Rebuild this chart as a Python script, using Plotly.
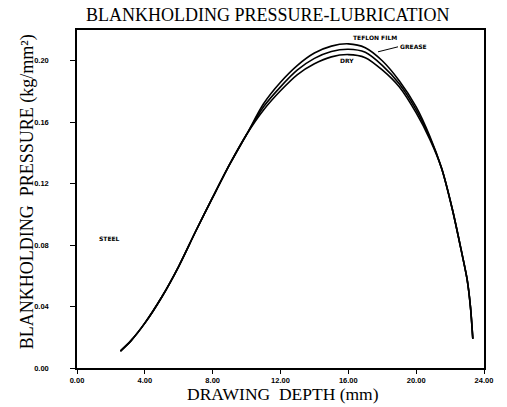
import plotly.graph_objects as go

# Drawing depth (mm) and blankholding pressure (kg/mm^2)
x_teflon = [2.56, 3.2, 4.0, 5.0, 6.0, 7.0, 8.0, 9.0, 10.0, 11.0, 12.0, 13.0, 14.0, 15.0, 16.0, 17.0, 18.0, 19.0, 20.0, 20.8, 21.5, 22.14, 22.65, 23.0, 23.2, 23.34]
y_teflon = [0.011, 0.018, 0.0292, 0.0462, 0.0662, 0.089, 0.111, 0.1325, 0.152, 0.172, 0.186, 0.197, 0.205, 0.2095, 0.211, 0.2085, 0.200, 0.187, 0.170, 0.151, 0.130, 0.103, 0.077, 0.058, 0.040, 0.019]

x_grease = [2.56, 3.2, 4.0, 5.0, 6.0, 7.0, 8.0, 9.0, 10.0, 11.0, 12.0, 13.0, 14.0, 15.0, 16.0, 17.0, 18.0, 19.0, 20.0, 20.8, 21.5, 22.14, 22.65, 23.0, 23.2, 23.34]
y_grease = [0.011, 0.018, 0.0292, 0.0462, 0.0662, 0.089, 0.111, 0.1325, 0.152, 0.170, 0.183, 0.194, 0.2015, 0.206, 0.2075, 0.2055, 0.197, 0.185, 0.168, 0.150, 0.130, 0.103, 0.077, 0.058, 0.040, 0.019]

x_dry = [2.56, 3.2, 4.0, 5.0, 6.0, 7.0, 8.0, 9.0, 10.0, 11.0, 12.0, 13.0, 14.0, 15.0, 16.0, 17.0, 18.0, 19.0, 20.0, 20.8, 21.5, 22.14, 22.65, 23.0, 23.2, 23.34]
y_dry = [0.011, 0.018, 0.0292, 0.0462, 0.0662, 0.089, 0.111, 0.1325, 0.152, 0.168, 0.1805, 0.191, 0.198, 0.2025, 0.204, 0.202, 0.194, 0.183, 0.166, 0.149, 0.130, 0.103, 0.077, 0.058, 0.040, 0.019]

x_ticks = [0, 4, 8, 12, 16, 20, 24]
y_ticks = [0.00, 0.04, 0.08, 0.12, 0.16, 0.20]

fig = go.Figure()
for xs, ys, name in [(x_teflon, y_teflon, "TEFLON FILM"), (x_grease, y_grease, "GREASE"), (x_dry, y_dry, "DRY")]:
    fig.add_trace(go.Scatter(x=xs, y=ys, mode="lines", name=name,
                             line=dict(color="black", width=1.6, shape="spline", smoothing=0.8),
                             showlegend=False, hoverinfo="skip"))

tickfont = dict(family="Liberation Sans", size=7.5, color="black", weight="bold")
fig.update_xaxes(range=[0, 24], tickvals=x_ticks, ticktext=[f"{v:.2f}" for v in x_ticks],
                 showgrid=False, zeroline=False, showline=True, linecolor="black", linewidth=1.5,
                 mirror=True, ticks="outside", ticklen=4, tickcolor="black", tickfont=tickfont)
fig.update_yaxes(range=[0, 0.22], tickvals=y_ticks, ticktext=[f"{v:.2f}" for v in y_ticks],
                 showgrid=False, zeroline=False, showline=True, linecolor="black", linewidth=1.5,
                 mirror=True, ticks="outside", ticklen=5, tickcolor="black", tickfont=tickfont,
                 ticklabelstandoff=20)

serif = "Liberation Serif"
lab = dict(family="DejaVu Sans", size=6, color="black", weight="bold")
annos = [
    dict(text="BLANKHOLDING PRESSURE-LUBRICATION", xref="paper", yref="paper", x=0.47, y=1.0,
         yanchor="middle", yshift=15, showarrow=False, font=dict(family=serif, size=18, color="black")),
    dict(text="DRAWING\u00a0 DEPTH (mm)", xref="paper", yref="paper", x=0.505, y=0,
         yanchor="middle", yshift=-26, showarrow=False, font=dict(family=serif, size=17.5, color="black")),
    dict(text="BLANKHOLDING\u00a0 PRESSURE (kg/mm²)", xref="paper", yref="paper", x=0, y=0.52,
         xanchor="center", yanchor="middle", xshift=-50, textangle=-90, showarrow=False,
         font=dict(family=serif, size=18, color="black")),
    dict(text="TEFLON FILM", x=17.6, y=0.2153, showarrow=False, font=lab),
    dict(text="GREASE", x=17.75, y=0.2058, ax=20, ay=-5, xanchor="left", showarrow=True,
         arrowhead=0, arrowwidth=1, arrowcolor="black", standoff=0, font=lab),
    dict(text="DRY", x=15.9, y=0.2, showarrow=False, font=lab),
    dict(text="STEEL", x=1.9, y=0.0846, showarrow=False, font=lab),
]
fig.update_layout(width=507, height=407, margin=dict(l=77, r=23, t=30, b=39),
                  paper_bgcolor="white", plot_bgcolor="white", annotations=annos)

fig.write_html("out.html", config={"displayModeBar": False},
               post_script="document.body.style.margin='0';")
